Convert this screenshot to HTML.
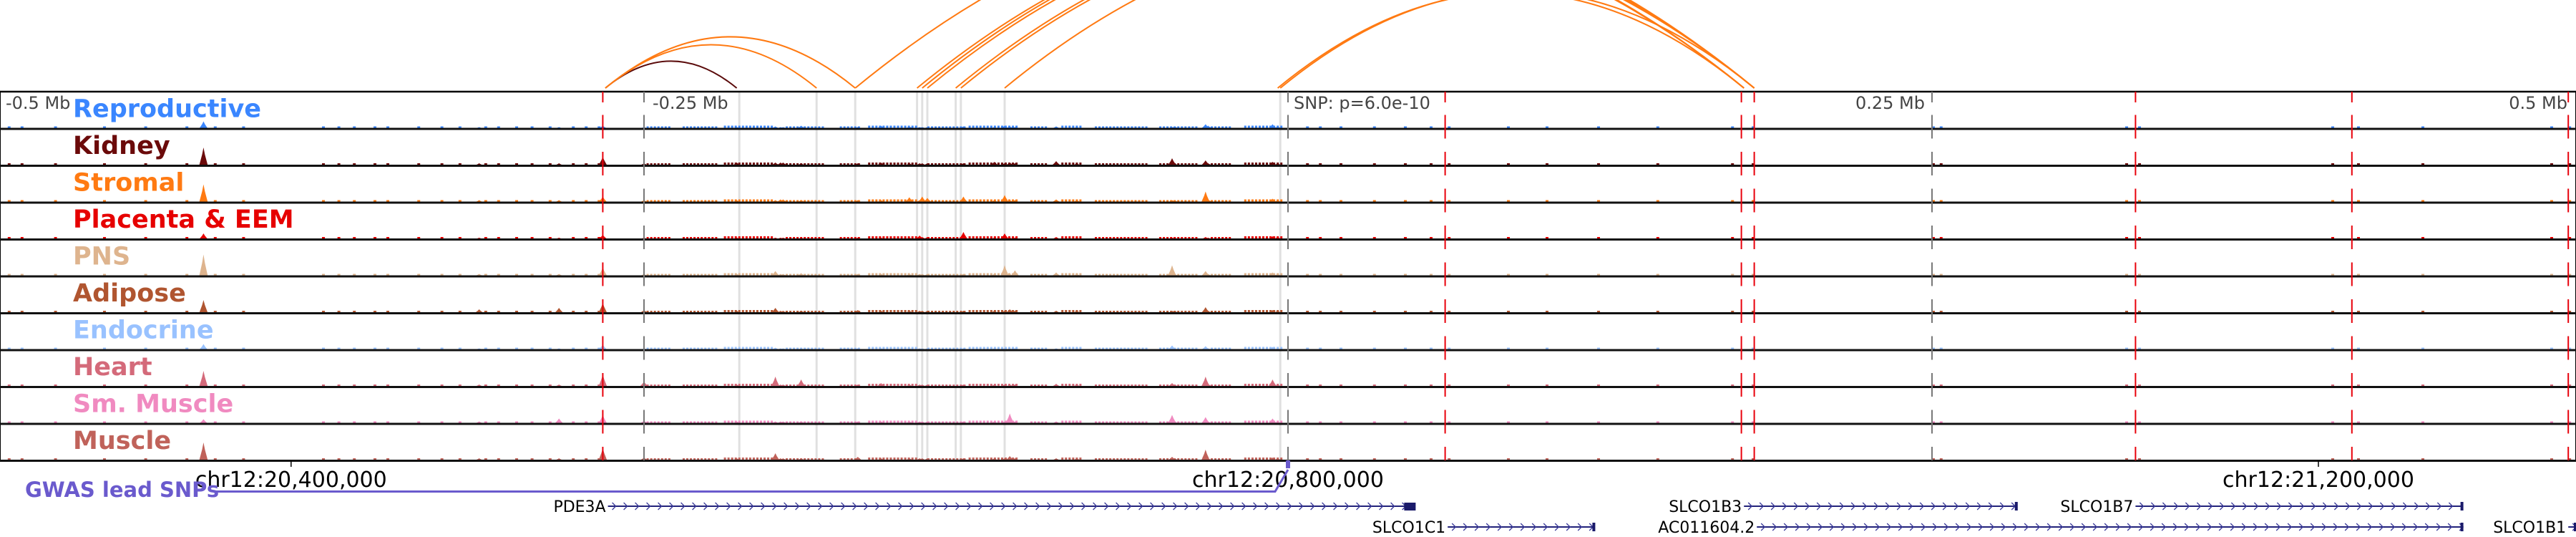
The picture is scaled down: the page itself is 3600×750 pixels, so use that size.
<!DOCTYPE html>
<html><head><meta charset="utf-8">
<style>
html,body{margin:0;padding:0;background:#fff;}
svg{display:block;}
text{font-family:"DejaVu Sans","Liberation Sans",sans-serif;}
</style></head>
<body>
<svg id="chart" width="3600" height="750" viewBox="0 0 3600 750" xmlns="http://www.w3.org/2000/svg">
<g id="arcs"></g>
<g id="bands"></g>
<g id="tracks"></g>
<g id="vlines"></g>
<g id="axis"></g>
<g id="genes"></g>
</svg>
<script>
// ---- data ----
const trackNames = ["Reproductive","Kidney","Stromal","Placenta & EEM","PNS","Adipose","Endocrine","Heart","Sm. Muscle","Muscle"];
const trackColors = ["#3a86ff","#6b0a0a","#ff7a12","#e60000","#deb48e","#b05530","#99c2ff","#d46a7a","#f08ac0","#c0625a"];
// peak positions in kb from panel start (-0.5 Mb)
const peakKb = [79,186,217,234,250,286,301,303,304,311,333,342,353,357,358,360,374,386,390,392,394,410,418,455,456,468,469,494,496];
const peakReproductive = [10,2,2,4,2,2,3,2,2,4,2,4,3,2,2,2,3,2,4,3,2,3,2,2,3,6,4,6,3];
const peakKidney       = [25,3,3,12,3,4,4,4,4,3,3,4,3,3,3,3,3,5,3,4,3,6,3,10,3,7,3,5,3];
const peakStromal      = [25,3,3,8,3,3,3,4,4,3,3,3,7,3,8,6,8,3,10,3,3,4,3,3,3,15,4,5,3];
const peakPlacenta     = [8,2,2,6,2,2,2,2,2,2,2,2,2,5,3,3,10,2,8,2,2,3,2,2,2,3,2,4,3];
const peakPNS          = [30,3,3,12,3,3,7,3,3,4,3,3,3,3,3,3,3,3,15,3,8,5,3,15,3,7,3,5,3];
const peakAdipose      = [18,5,7,14,4,3,7,3,3,3,4,3,3,3,3,3,3,3,3,5,3,3,3,3,3,8,3,4,3];
const peakEndocrine    = [8,2,2,7,2,2,3,2,2,2,2,2,2,2,2,2,2,2,2,2,2,2,2,6,2,5,2,4,2];
const peakHeart        = [22,3,3,17,7,3,14,3,3,10,3,5,3,3,3,3,3,3,3,3,3,4,3,5,3,14,4,10,3];
const peakSmMuscle     = [6,3,7,12,4,3,3,3,3,3,3,3,3,3,3,3,3,3,3,14,3,3,3,12,3,9,3,7,3];
const peakMuscle       = [25,3,3,17,4,3,10,3,3,3,5,3,3,3,3,3,3,3,3,6,3,3,3,5,3,15,3,4,3];
const trackPeaks = [peakReproductive,peakKidney,peakStromal,peakPlacenta,peakPNS,peakAdipose,peakEndocrine,peakHeart,peakSmMuscle,peakMuscle];
// low background signal blocks [startKb, endKb, height]
const bgBlocks = [[251,260,2],[265,278,2],[281,300,3],[305,320,2],[326,333,2],[337,356,3],[360,375,2],[376,395,3],[400,406,2],[412,420,3],[425,445,2],[450,465,2],[470,478,2],[483,497,3]];
const bgPoints = [3,8,21,40,56,72,83,94,125,131,137,145,150,162,171,178,188,193,200,206,213,222,227,232,507,512,520,533,545,555,562,585,600,620,643,672,680,750,753,825,830,905,915,940,990,997];
// vertical SNP markers (kb)
const redSnps = [234,561,676,681,829,913,997];
const graySnps = [250,500,750];
const bandKb = [287,317,332,356,358,360,371,373,390,497];
// arcs [startKb, endKb, colour]
const arcs = [[235,286,"#5a0a0a"],[235,317,"#ff7a12"],[235,332,"#ff7a12"],[332,681,"#ff7a12"],[356,677,"#ff7a12"],[358,681,"#ff7a12"],[360,677,"#ff7a12"],[371,681,"#ff7a12"],[373,677,"#ff7a12"],[390,681,"#ff7a12"],[496,677,"#ff7a12"],[497,681,"#ff7a12"]];
const axisLabels = ["-0.5 Mb","-0.25 Mb","SNP: p=6.0e-10","0.25 Mb","0.5 Mb"];
const coordTicksKb = [113,500,900];
const coordLabels = ["chr12:20,400,000","chr12:20,800,000","chr12:21,200,000"];
// genes [name, startKb, endKb, row]
const genes = [["PDE3A",236,549,0],["SLCO1C1",562,619,1],["SLCO1B3",677,783,0],["SLCO1B7",829,956,0],["AC011604.2",682,956,1],["SLCO1B1",997,1000,1]];

// ---- scales ----
const NS="http://www.w3.org/2000/svg";
const X = kb => kb*3.6;
const top0 = 128, trackH = 51.5;
const baseY = i => top0 + 51.5 + i*trackH;
function el(tag, attrs, parent){const e=document.createElementNS(NS,tag);for(const k in attrs)e.setAttribute(k,attrs[k]);parent.appendChild(e);return e;}

// arcs
const gA=document.getElementById('arcs');
arcs.forEach(a=>{
  const x1=X(a[0]), x2=X(a[1]), w=x2-x1, H=0.205*w;
  const p=el('path',{d:`M${x1},123 Q${(x1+x2)/2},${123-2*H} ${x2},123`,fill:'none',stroke:a[2],'stroke-width':2},gA);
  
  
});

// bands
const gB=document.getElementById('bands');
bandKb.forEach(k=>{
  const r=el('rect',{x:X(k)-1.5,y:top0,width:3,height:642-top0,fill:'#e0e0e0'},gB);
  
  
});

// tracks
const gT=document.getElementById('tracks');
el('line',{x1:0,y1:top0,x2:3600,y2:top0,stroke:'#000','stroke-width':2.5},gT);
el('line',{x1:0.5,y1:top0,x2:0.5,y2:643,stroke:'#000','stroke-width':1},gT);
el('line',{x1:3599.5,y1:top0,x2:3599.5,y2:643,stroke:'#000','stroke-width':1},gT);
trackNames.forEach((nm,i)=>{
  const g=el('g',{},gT);
  
  
  const by=baseY(i), col=trackColors[i];
  bgBlocks.forEach(b=>{
    for(let k=b[0];k<b[1];k+=1.4){el('rect',{x:X(k),y:by-b[2]-1,width:3,height:b[2]+1,fill:col},g);}
  });
  bgPoints.forEach(k=>{el('rect',{x:X(k),y:by-3,width:4,height:3,fill:col},g);});
  trackPeaks[i].forEach((h,j)=>{
    const cx=X(peakKb[j]);
    const p=el('path',{d:`M${cx-6},${by} L${cx-2},${by-h*0.6} L${cx},${by-h} L${cx+2},${by-h*0.6} L${cx+6},${by} Z`,fill:col},g);
    
    
  });
  el('line',{x1:0,y1:by+0.5,x2:3600,y2:by+0.5,stroke:'#111','stroke-width':3},g);
  const t=el('text',{x:102,y:by-16,fill:col,'font-size':35,'font-weight':'bold'},g);
  t.textContent=nm;
  
  
});

// vertical lines
const gV=document.getElementById('vlines');
function vseg(kb,color,w){
  el('line',{x1:X(kb),y1:top0,x2:X(kb),y2:top0+15,stroke:color,'stroke-width':w},gV);
  for(let i=0;i<10;i++){const by=baseY(i);el('line',{x1:X(kb),y1:by-19,x2:X(kb),y2:by+(i<9?14:0),stroke:color,'stroke-width':w},gV);}
}
redSnps.forEach(k=>vseg(k,'#e8000b',2));
graySnps.forEach(k=>vseg(k,'#777',2));

// axis labels inside panel
const gX=document.getElementById('axis');
const axPos=[[0,8,'start'],[250,912,'start'],[500,1808,'start'],[750,2690,'end'],[1000,3588,'end']];
axisLabels.forEach((s,i)=>{
  const t=el('text',{x:axPos[i][1],y:152,'font-size':24,fill:'#444','text-anchor':axPos[i][2]},gX);
  t.textContent=s;
  
  
});
coordTicksKb.forEach((k,i)=>{
  el('line',{x1:X(k),y1:643,x2:X(k),y2:652,stroke:'#000','stroke-width':1.5},gX);
  const t=el('text',{x:X(k),y:680,'font-size':30,fill:'#000','text-anchor':'middle'},gX);
  t.textContent=coordLabels[i];
  
  
});

// GWAS
const gG=document.getElementById('genes');
const gw=el('text',{x:35,y:694,'font-size':29,'font-weight':'bold',fill:'#6a5acd'},gG);
gw.textContent='GWAS lead SNPs';


el('path',{d:`M300,686.5 L${X(495)},686.5 L${X(500)},656`,fill:'none',stroke:'#6a5acd','stroke-width':3},gG);
el('rect',{x:X(500)-3,y:643,width:6,height:11,fill:'#6a5acd'},gG);

// genes
genes.forEach(gn=>{
  const g=el('g',{},gG);
  
  
  const y=gn[3]===0?707:736, x1=X(gn[1]), x2=Math.min(X(gn[2]),3600);
  el('line',{x1:x1,y1:y,x2:x2,y2:y,stroke:'#22227a','stroke-width':2},g);
  let arr='';
  for(let x=x1+6;x<x2-4;x+=16){arr+=`M${x},${y-5} L${x+5},${y} L${x},${y+5} `;}
  el('path',{d:arr,fill:'none',stroke:'#3a3a9a','stroke-width':1.3},g);
  if(gn[0]==='PDE3A') el('rect',{x:x2-14,y:y-5,width:16,height:11,fill:'#1a1a6a'},g);
  else el('rect',{x:x2-3,y:y-6,width:4,height:12,fill:'#1a1a6a'},g);
  const t=el('text',{x:x1-3,y:y+8,'font-size':22,fill:'#000','text-anchor':'end'},g);
  t.textContent=gn[0];
  
  
});
</script>
</body></html>
